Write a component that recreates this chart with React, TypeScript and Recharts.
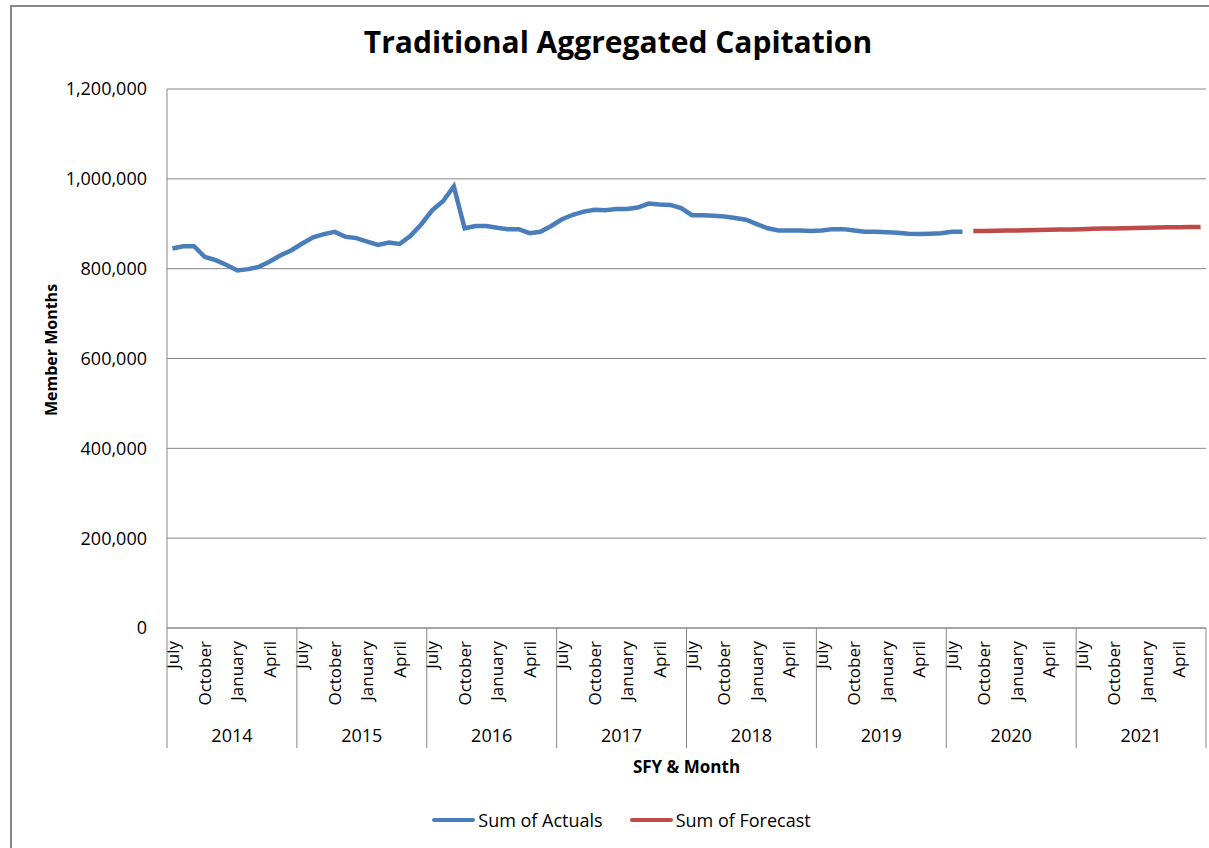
import React from 'react';
import { LineChart, Line, XAxis, YAxis, CartesianGrid, Legend } from 'recharts';

const months = ['July', 'August', 'September', 'October', 'November', 'December', 'January', 'February', 'March', 'April', 'May', 'June'];
const labelledMonths = ['July', 'October', 'January', 'April'];
const sfyYears = [2014, 2015, 2016, 2017, 2018, 2019, 2020, 2021];
const yTicks = [0, 200000, 400000, 600000, 800000, 1000000, 1200000];

// Jul 2014 .. Aug 2020
const actuals = [
  845000, 850000, 850000, 826000, 819000, 808000, 796000, 799000, 804000, 816000, 830000, 841000,
  856000, 870000, 877000, 882000, 871000, 868000, 860000, 853000, 858000, 855000, 873000, 899000,
  930000, 950000, 983000, 890000, 895000, 895000, 891000, 888000, 888000, 879000, 882000, 895000,
  910000, 920000, 927000, 931000, 930000, 933000, 933000, 936000, 945000, 943000, 942000, 935000,
  919000, 919000, 918000, 916000, 913000, 909000, 899000, 890000, 885000, 885000, 885000, 884000,
  885000, 888000, 888000, 885000, 882000, 882000, 881000, 880000, 878000, 877000, 878000, 879000,
  882000, 882000,
];

// Sep 2020 .. Jun 2021
const forecast = [
  884000, 884000, 884500, 885000, 885000, 885500, 886000, 886500, 887000, 887000,
  888000, 889000, 889500, 889500, 890000, 890500, 891000, 891500, 892000, 892000, 892500, 893000,
];

const forecastStart = actuals.length;

const rows = sfyYears.flatMap((sfy, yi) =>
  months.map((month, mi) => {
    const i = yi * 12 + mi;
    return {
      month,
      sfy,
      actual: i < actuals.length ? actuals[i] : null,
      forecast: i >= forecastStart ? forecast[i - forecastStart] : null,
    };
  })
);

const W = 1209;
const H = 848;
const PLOT_LEFT = 167;
const PLOT_RIGHT = 1206;
const PLOT_TOP = 89;
const PLOT_BOTTOM = 628;
const LEGEND_H = 24;
const BAND = (PLOT_RIGHT - PLOT_LEFT) / rows.length;
const FONT = '"Open Sans", sans-serif';
const GRID = '#868686';
const BLUE = '#4a7ebb';
const RED = '#be4b48';

const MonthTick = (props: any) => {
  const { x, index } = props;
  const row = rows[index];
  if (!row) return null;
  const ty = PLOT_BOTTOM + 13;
  const isFirst = index % 12 === 0;
  const isLast = index === rows.length - 1;
  return (
    <g>
      {labelledMonths.includes(row.month) && (
        <text
          x={x}
          y={ty}
          dy="0.36em"
          transform={`rotate(-90, ${x}, ${ty})`}
          textAnchor="end"
          fontSize={17}
          fontFamily={FONT}
          fill="#000"
        >
          {row.month}
        </text>
      )}
      {isFirst && (
        <line x1={x - BAND / 2} x2={x - BAND / 2} y1={PLOT_BOTTOM} y2={PLOT_BOTTOM + 120} stroke={GRID} strokeWidth={1} />
      )}
      {isLast && (
        <line x1={x + BAND / 2} x2={x + BAND / 2} y1={PLOT_BOTTOM} y2={PLOT_BOTTOM + 120} stroke={GRID} strokeWidth={1} />
      )}
      {isFirst && (
        <text x={x - BAND / 2 + BAND * 6} y={PLOT_BOTTOM + 114} textAnchor="middle" fontSize={18} fontFamily={FONT} fill="#000">
          {row.sfy}
        </text>
      )}
    </g>
  );
};

const renderLegend = () => (
  <div style={{ display: 'flex', justifyContent: 'center', alignItems: 'center', fontFamily: FONT, fontSize: 18, color: '#000', paddingLeft: 34, height: LEGEND_H }}>
    <span style={{ display: 'inline-block', width: 43, height: 4, background: BLUE, borderRadius: 2, marginRight: 3 }} />
    <span style={{ marginRight: 27 }}>Sum of Actuals</span>
    <span style={{ display: 'inline-block', width: 43, height: 4, background: RED, borderRadius: 2, marginRight: 3 }} />
    <span>Sum of Forecast</span>
  </div>
);

export default function App() {
  return (
    <div style={{ position: 'absolute', left: 0, top: 0, width: W, height: H, overflow: 'hidden', background: '#fff' }}>
      <div
        style={{
          position: 'absolute',
          left: 10,
          top: 5,
          width: 1230,
          height: 900,
          border: `2px solid ${GRID}`,
          boxSizing: 'border-box',
        }}
      />
      <div
        style={{
          position: 'absolute',
          left: 0,
          top: 21,
          width: 1236,
          textAlign: 'center',
          fontFamily: FONT,
          fontWeight: 700,
          fontSize: 30,
          color: '#000',
        }}
      >
        Traditional Aggregated Capitation
      </div>
      <LineChart
        width={W}
        height={H}
        data={rows}
        margin={{ top: PLOT_TOP, right: W - PLOT_RIGHT, left: PLOT_LEFT - 80, bottom: H - PLOT_BOTTOM - 120 - LEGEND_H }}
        style={{ position: 'absolute', left: 0, top: 0 }}
      >
        <CartesianGrid vertical={false} stroke={GRID} strokeWidth={1} />
        <XAxis
          dataKey="month"
          interval={0}
          tickLine={false}
          axisLine={{ stroke: GRID }}
          height={120}
          padding={{ left: BAND / 2, right: BAND / 2 }}
          tick={MonthTick}
          label={{
            content: () => (
              <text x={(PLOT_LEFT + PLOT_RIGHT) / 2} y={773} textAnchor="middle" fontSize={17} fontWeight={700} fontFamily={FONT} fill="#000">
                SFY &amp; Month
              </text>
            ),
          }}
        />
        <YAxis
          width={80}
          domain={[0, 1200000]}
          ticks={yTicks}
          interval={0}
          tickLine={false}
          tickSize={0}
          tickMargin={20}
          axisLine={{ stroke: GRID }}
          tick={{ fontSize: 18, fill: '#000', fontFamily: FONT }}
          tickFormatter={(v: number) => v.toLocaleString('en-US')}
          label={{
            content: () => (
              <text
                x={51}
                y={350}
                dy="0.36em"
                transform="rotate(-90, 51, 350)"
                textAnchor="middle"
                fontSize={16}
                fontWeight={700}
                fontFamily={FONT}
                fill="#000"
              >
                Member Months
              </text>
            ),
          }}
        />
        <Legend
          layout="horizontal"
          align="center"
          verticalAlign="bottom"
          content={renderLegend}
          wrapperStyle={{ top: 808, bottom: 'auto', left: 0, width: W, height: LEGEND_H }}
        />
        <Line
          type="linear"
          dataKey="actual"
          name="Sum of Actuals"
          stroke={BLUE}
          strokeWidth={4.5}
          dot={false}
          activeDot={false}
          connectNulls={false}
          isAnimationActive={false}
        />
        <Line
          type="linear"
          dataKey="forecast"
          name="Sum of Forecast"
          stroke={RED}
          strokeWidth={4.5}
          dot={false}
          activeDot={false}
          connectNulls={false}
          isAnimationActive={false}
        />
      </LineChart>
    </div>
  );
}
